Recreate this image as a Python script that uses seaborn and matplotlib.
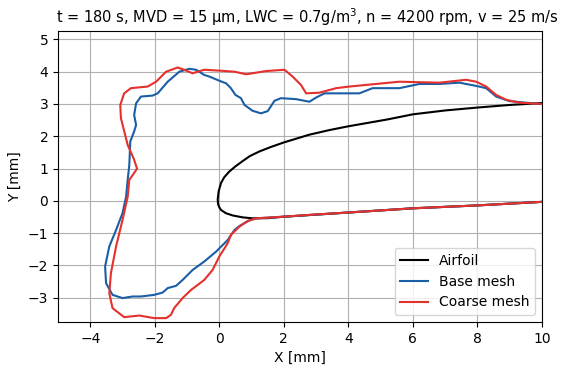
import matplotlib
matplotlib.use("Agg")
import matplotlib.pyplot as plt
import seaborn as sns
import pandas as pd

# Airfoil contour (upper surface from trailing edge -> leading edge -> lower surface)
airfoil_x = [10.0, 9.0, 8.0, 7.0, 6.0, 5.2, 4.0, 3.4, 2.79, 2.0, 1.6, 1.24, 0.95, 0.72, 0.5, 0.31, 0.15,
             0.05, -0.02, -0.05, -0.04, 0.0, 0.05, 0.2, 0.41, 0.72, 1.03, 1.5, 2.0, 4.0, 6.0, 8.0, 10.0]
airfoil_y = [3.03, 2.97, 2.89, 2.8, 2.68, 2.52, 2.31, 2.19, 2.05, 1.81, 1.67, 1.53, 1.39, 1.23, 1.07, 0.91,
             0.73, 0.55, 0.3, 0.05, -0.1, -0.2, -0.28, -0.38, -0.45, -0.51, -0.54, -0.535, -0.49, -0.36,
             -0.23, -0.14, -0.03]

# Base mesh ice shape
base_x = [10.0, 8.0, 6.0, 4.0, 2.0, 1.14, 0.9, 0.62, 0.47, 0.26, -0.1, -0.47, -0.83, -1.14, -1.34, -1.6,
          -1.76, -2.02, -2.43, -2.69, -3.0, -3.31, -3.51, -3.54, -3.41, -3.2, -3.0, -2.89, -2.84, -2.79,
          -2.76, -2.64, -2.58, -2.64, -2.58, -2.43, -2.07, -1.91, -1.6, -1.24, -0.93, -0.72, -0.47, -0.31,
          0.0, 0.21, 0.35, 0.5, 0.67, 0.78, 1.03, 1.29, 1.5, 1.71, 1.91, 2.38, 2.79, 3.0, 3.26, 3.93, 4.34,
          4.75, 5.58, 6.2, 6.82, 7.44, 7.96, 8.27, 8.58, 8.99, 9.51, 10.0]
base_y = [-0.03, -0.14, -0.23, -0.36, -0.49, -0.54, -0.62, -0.78, -0.9, -1.21, -1.57, -1.88, -2.14, -2.45,
          -2.63, -2.7, -2.84, -2.91, -2.96, -2.96, -3.01, -2.91, -2.55, -2.03, -1.41, -0.9, -0.38, 0.13,
          0.65, 1.11, 1.84, 2.15, 2.35, 2.66, 3.02, 3.23, 3.26, 3.33, 3.69, 4.0, 4.09, 4.06, 3.9, 3.85,
          3.72, 3.64, 3.5, 3.28, 3.18, 2.97, 2.79, 2.71, 2.78, 3.1, 3.18, 3.15, 3.07, 3.2, 3.33, 3.33, 3.33,
          3.49, 3.49, 3.62, 3.62, 3.66, 3.56, 3.49, 3.23, 3.09, 3.04, 3.0]

# Coarse mesh ice shape
coarse_x = [10.0, 8.0, 6.0, 4.0, 3.0, 1.96, 1.14, 0.88, 0.62, 0.36, 0.26, 0.0, -0.21, -0.47, -0.88, -1.14,
            -1.4, -1.5, -1.65, -2.02, -2.48, -2.95, -3.31, -3.41, -3.36, -3.2, -3.0, -2.84, -2.79, -2.65,
            -2.55, -2.65, -2.84, -3.05, -3.07, -2.95, -2.74, -2.22, -1.96, -1.65, -1.29, -1.09, -0.83, -0.47,
            0.05, 0.47, 0.83, 1.45, 2.02, 2.27, 2.53, 2.69, 3.1, 3.62, 4.03, 5.06, 5.58, 6.82, 7.65, 7.96,
            8.27, 8.58, 8.89, 9.3, 10.0]
coarse_y = [-0.03, -0.14, -0.23, -0.36, -0.42, -0.49, -0.54, -0.62, -0.8, -1.05, -1.31, -1.72, -2.14, -2.45,
            -2.76, -3.01, -3.32, -3.53, -3.63, -3.63, -3.55, -3.6, -3.32, -2.86, -2.24, -1.41, -0.59, 0.13,
            0.65, 0.85, 1.0, 1.3, 1.73, 2.56, 2.97, 3.33, 3.49, 3.54, 3.69, 4.0, 4.13, 4.06, 3.95, 4.06,
            4.03, 4.0, 3.92, 4.02, 4.06, 3.85, 3.59, 3.33, 3.35, 3.49, 3.54, 3.64, 3.69, 3.66, 3.75, 3.69,
            3.54, 3.28, 3.13, 3.04, 3.0]

title = "t = 180 s, MVD = 15 μm, LWC = 0.7g/m$^3$, n = 4200 rpm, v = 25 m/s"

fig = plt.figure(figsize=(5.71, 3.69), dpi=100)
ax = fig.add_axes([58 / 571, 1 - 322 / 369, (542 - 58) / 571, (322 - 31) / 369])

df_air = pd.DataFrame({"x": airfoil_x, "y": airfoil_y})
df_base = pd.DataFrame({"x": base_x, "y": base_y})
df_coarse = pd.DataFrame({"x": coarse_x, "y": coarse_y})

sns.lineplot(data=df_air, x="x", y="y", sort=False, estimator=None, color="black",
             linewidth=1.5, label="Airfoil", ax=ax)
sns.lineplot(data=df_base, x="x", y="y", sort=False, estimator=None, color="#1a5ea6",
             linewidth=1.5, label="Base mesh", ax=ax)
sns.lineplot(data=df_coarse, x="x", y="y", sort=False, estimator=None, color="#e5302b",
             linewidth=1.5, label="Coarse mesh", ax=ax)

ax.set_xlim(-5, 10)
ax.set_ylim(-3.75, 5.26)
ax.set_xticks([-4, -2, 0, 2, 4, 6, 8, 10])
ax.set_yticks([-3, -2, -1, 0, 1, 2, 3, 4, 5])
ax.grid(True, color="#b0b0b0", linewidth=0.8)
ax.set_axisbelow(True)
ax.set_xlabel("X [mm]")
ax.set_ylabel("Y [mm]")
ax.set_title(title, fontsize=10.5, x=0.515)
ax.legend(loc="lower right")

fig.savefig("out.png", dpi=100)
